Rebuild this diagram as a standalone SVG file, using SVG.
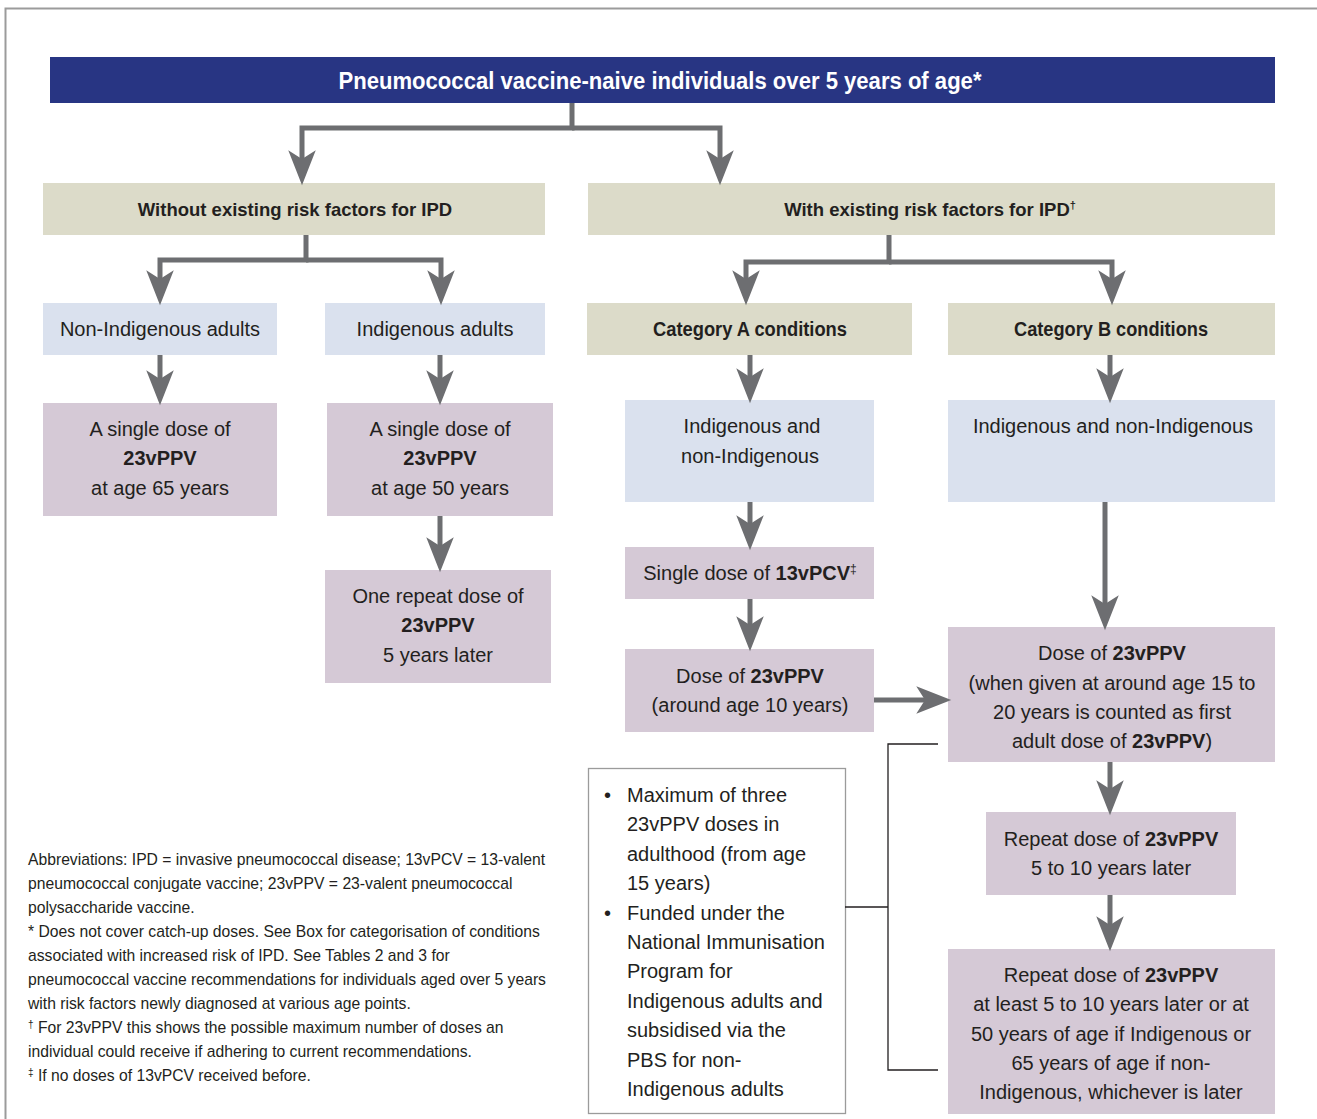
<svg xmlns="http://www.w3.org/2000/svg" width="1317" height="1119" viewBox="0 0 1317 1119">
<defs>
<style>
text{font-family:"Liberation Sans",Arial,sans-serif;fill:#231f20}
.t{font-size:20px;text-anchor:middle}
.b{font-weight:bold}
.h{font-size:20px;font-weight:bold;text-anchor:middle}
.h2{font-size:18.5px;font-weight:bold;text-anchor:middle}
.fn{font-size:15.7px}
.nt{font-size:20px}
.navy{fill:#283583}
.beige{fill:#dcdbc9}
.blue{fill:#dae1ee}
.mauve{fill:#d5c9d6}
.conn path{fill:none;stroke:#6d6e71;stroke-width:5;stroke-linejoin:miter;marker-end:url(#ah)}
.br{fill:none;stroke:#231f20;stroke-width:1.3}
</style>
<marker id="ah" markerUnits="userSpaceOnUse" markerWidth="40" markerHeight="30" viewBox="-8 -12 30 24" refX="0" refY="0" orient="auto">
<path d="M-7,-11 L21,0 L-7,11 L0,0 Z" fill="#6d6e71"/>
</marker>
</defs>
<rect width="1317" height="1119" fill="#fff"/>
<path d="M5.5,1119 V8.5 H1317" fill="none" stroke="#9b9b9b" stroke-width="2"/>

<g id="banner">
<rect class="navy" x="50" y="57" width="1225" height="46"/>
<text x="660" y="89" style="font-size:23px;font-weight:bold;fill:#fff;text-anchor:middle" textLength="643" lengthAdjust="spacingAndGlyphs">Pneumococcal vaccine-naive individuals over 5 years of age*</text>
</g>

<g id="without">
<rect class="beige" x="43" y="183" width="502" height="52"/>
<text class="h2" x="295" y="216">Without existing risk factors for IPD</text>
</g>
<g id="with">
<rect class="beige" x="588" y="183" width="687" height="52"/>
<text class="h2" x="930" y="216">With existing risk factors for IPD<tspan dy="-7" font-size="11">†</tspan></text>
</g>

<g id="nonindig">
<rect class="blue" x="43" y="303" width="234" height="52"/>
<text class="t" x="160" y="336">Non-Indigenous adults</text>
</g>
<g id="indig">
<rect class="blue" x="325" y="303" width="220" height="52"/>
<text class="t" x="435" y="336">Indigenous adults</text>
</g>
<g id="catA">
<rect class="beige" x="587" y="303" width="325" height="52"/>
<text class="h" x="750" y="336" textLength="194" lengthAdjust="spacingAndGlyphs">Category A conditions</text>
</g>
<g id="catB">
<rect class="beige" x="948" y="303" width="327" height="52"/>
<text class="h" x="1111" y="336" textLength="194" lengthAdjust="spacingAndGlyphs">Category B conditions</text>
</g>

<g id="dose65">
<rect class="mauve" x="43" y="403" width="234" height="113"/>
<text class="t" x="160" y="436">A single dose of</text>
<text class="t b" x="160" y="465">23vPPV</text>
<text class="t" x="160" y="495">at age 65 years</text>
</g>
<g id="dose50">
<rect class="mauve" x="327" y="403" width="226" height="113"/>
<text class="t" x="440" y="436">A single dose of</text>
<text class="t b" x="440" y="465">23vPPV</text>
<text class="t" x="440" y="495">at age 50 years</text>
</g>
<g id="repeat5">
<rect class="mauve" x="325" y="570" width="226" height="113"/>
<text class="t" x="438" y="603">One repeat dose of</text>
<text class="t b" x="438" y="632">23vPPV</text>
<text class="t" x="438" y="662">5 years later</text>
</g>

<g id="indigA">
<rect class="blue" x="625" y="400" width="249" height="102"/>
<text class="t" x="752" y="433">Indigenous and</text>
<text class="t" x="750" y="463">non-Indigenous</text>
</g>
<g id="indigB">
<rect class="blue" x="948" y="400" width="327" height="102"/>
<text class="t" x="1113" y="433">Indigenous and non-Indigenous</text>
</g>

<g id="pcv">
<rect class="mauve" x="625" y="547" width="249" height="52"/>
<text class="t" x="750" y="580">Single dose of <tspan class="b">13vPCV</tspan><tspan dy="-7" font-size="12">‡</tspan></text>
</g>
<g id="dose10">
<rect class="mauve" x="625" y="649" width="249" height="83"/>
<text class="t" x="750" y="683">Dose of <tspan class="b">23vPPV</tspan></text>
<text class="t" x="750" y="712">(around age 10 years)</text>
</g>
<g id="dose15">
<rect class="mauve" x="948" y="627" width="327" height="135"/>
<text class="t" x="1112" y="660">Dose of <tspan class="b">23vPPV</tspan></text>
<text class="t" x="1112" y="690">(when given at around age 15 to</text>
<text class="t" x="1112" y="719">20 years is counted as first</text>
<text class="t" x="1112" y="748">adult dose of <tspan class="b">23vPPV</tspan>)</text>
</g>
<g id="repeat510">
<rect class="mauve" x="986" y="812" width="250" height="83"/>
<text class="t" x="1111" y="846">Repeat dose of <tspan class="b">23vPPV</tspan></text>
<text class="t" x="1111" y="875">5 to 10 years later</text>
</g>
<g id="repeatFinal">
<rect class="mauve" x="948" y="949" width="327" height="165"/>
<text class="t" x="1111" y="982">Repeat dose of <tspan class="b">23vPPV</tspan></text>
<text class="t" x="1111" y="1011">at least 5 to 10 years later or at</text>
<text class="t" x="1111" y="1041">50 years of age if Indigenous or</text>
<text class="t" x="1111" y="1070">65 years of age if non-</text>
<text class="t" x="1111" y="1099">Indigenous, whichever is later</text>
</g>

<g id="note">
<rect x="588.5" y="768.5" width="257" height="345" fill="#fff" stroke="#9b9b9b" stroke-width="1.3"/>
<text class="nt" x="604" y="802">•</text>
<text class="nt" x="627" y="802">Maximum of three</text>
<text class="nt" x="627" y="831">23vPPV doses in</text>
<text class="nt" x="627" y="861">adulthood (from age</text>
<text class="nt" x="627" y="890">15 years)</text>
<text class="nt" x="604" y="920">•</text>
<text class="nt" x="627" y="920">Funded under the</text>
<text class="nt" x="627" y="949">National Immunisation</text>
<text class="nt" x="627" y="978">Program for</text>
<text class="nt" x="627" y="1008">Indigenous adults and</text>
<text class="nt" x="627" y="1037">subsidised via the</text>
<text class="nt" x="627" y="1067">PBS for non-</text>
<text class="nt" x="627" y="1096">Indigenous adults</text>
</g>

<g id="bracket">
<path class="br" d="M938,744 H888 V1070 H938 M845,907 H888"/>
</g>

<g id="connectors" class="conn">
<path d="M572,103 V128 H302 V159"/>
<path d="M572,128 H720 V159"/>
<path d="M306,235 V260 H160 V279"/>
<path d="M306,260 H441 V279"/>
<path d="M889,235 V262 H746 V279"/>
<path d="M889,262 H1112 V279"/>
<path d="M160,355 V379"/>
<path d="M440,355 V379"/>
<path d="M440,516 V546"/>
<path d="M750,355 V377"/>
<path d="M1110,355 V377"/>
<path d="M750,502 V524"/>
<path d="M750,599 V625"/>
<path d="M874,700 H925"/>
<path d="M1105,502 V604"/>
<path d="M1110,762 V789"/>
<path d="M1110,895 V925"/>
</g>

<g id="footnotes">
<text class="fn" x="28" y="865">Abbreviations: IPD = invasive pneumococcal disease; 13vPCV = 13-valent</text>
<text class="fn" x="28" y="889">pneumococcal conjugate vaccine; 23vPPV = 23-valent pneumococcal</text>
<text class="fn" x="28" y="913">polysaccharide vaccine.</text>
<text class="fn" x="28" y="937">* Does not cover catch-up doses. See Box for categorisation of conditions</text>
<text class="fn" x="28" y="961">associated with increased risk of IPD. See Tables 2 and 3 for</text>
<text class="fn" x="28" y="985">pneumococcal vaccine recommendations for individuals aged over 5 years</text>
<text class="fn" x="28" y="1009">with risk factors newly diagnosed at various age points.</text>
<text class="fn" x="28" y="1033"><tspan font-size="10" dy="-5">†</tspan><tspan dy="5"> For 23vPPV this shows the possible maximum number of doses an</tspan></text>
<text class="fn" x="28" y="1057">individual could receive if adhering to current recommendations.</text>
<text class="fn" x="28" y="1081"><tspan font-size="10" dy="-5">‡</tspan><tspan dy="5"> If no doses of 13vPCV received before.</tspan></text>
</g>
</svg>
